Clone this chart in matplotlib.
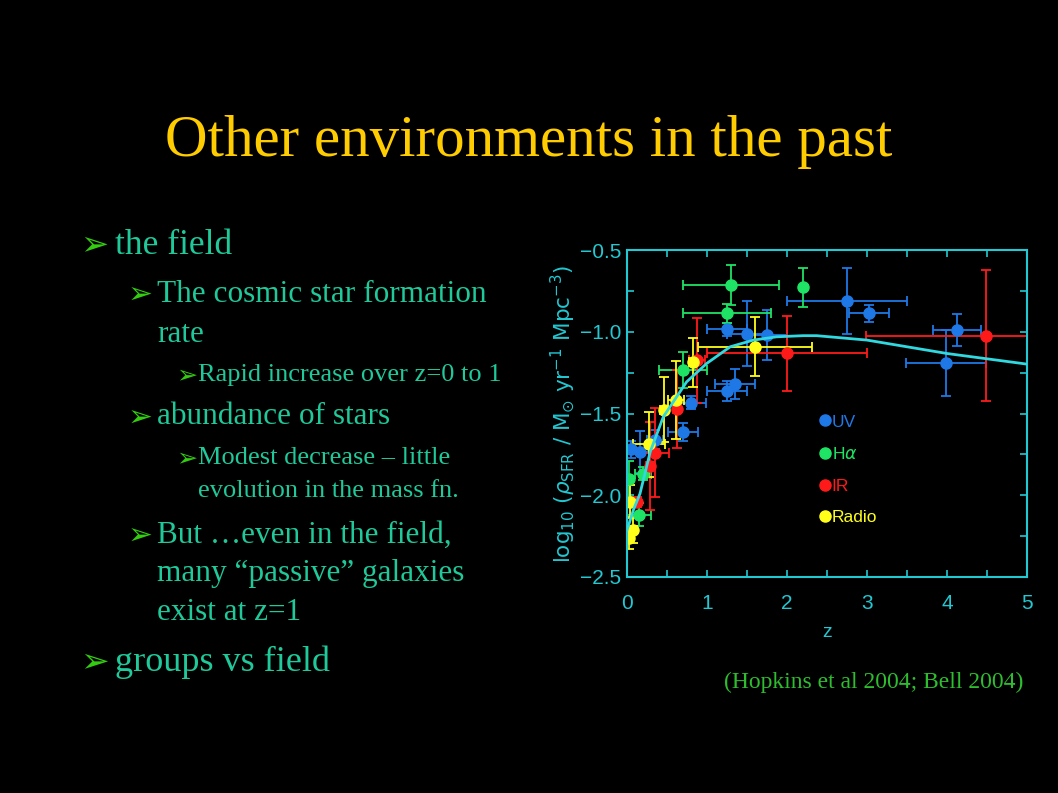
import matplotlib.pyplot as plt
from matplotlib.ticker import MultipleLocator
from matplotlib.lines import Line2D

# cosmic star formation history points
uv_z = [0.05, 0.16, 0.35, 0.70, 0.80, 1.25, 1.35, 1.25, 1.50, 1.75, 2.75, 3.03, 4.12, 3.99]
uv_v = [-1.72, -1.735, -1.66, -1.616, -1.433, -1.361, -1.32, -0.986, -1.012, -1.02, -0.812, -0.888, -0.99, -1.19]
uv_xerr = [0.05, 0.16, 0.1, 0.19, 0.19, 0.25, 0.25, 0.25, 0.25, 0.25, 0.75, 0.25, 0.3, 0.5]
uv_yerr = [0.05, 0.13, 0.06, 0.055, 0.04, 0.06, 0.09, 0.04, 0.2, 0.15, 0.2, 0.05, 0.1, 0.2]

ha_z = [1.30, 1.25, 2.20, 0.70, 0.20, 0.15, 0.02]
ha_v = [-0.714, -0.888, -0.729, -1.235, -1.867, -2.118, -1.898]
ha_xerr = [0.6, 0.55, 0.0, 0.3, 0.1, 0.15, 0.02]
ha_yerr = [0.12, 0.06, 0.12, 0.11, 0.04, 0.07, 0.11]

ir_z = [4.49, 2.0, 0.88, 0.63, 0.35, 0.29, 0.13]
ir_v = [-1.024, -1.133, -1.173, -1.473, -1.739, -1.82, -2.04]
ir_xerr = [1.5, 1.0, 0.1, 0.05, 0.17, 0.05, 0.03]
ir_yerr = [0.4, 0.23, 0.26, 0.24, 0.27, 0.27, 0.03]

radio_z = [1.60, 0.82, 0.61, 0.46, 0.27, 0.04, 0.08, 0.025]
radio_v = [-1.092, -1.186, -1.418, -1.476, -1.688, -2.04, -2.214, -2.26]
radio_xerr = [0.71, 0.05, 0.1, 0.05, 0.2, 0.04, 0.04, 0.02]
radio_yerr = [0.18, 0.15, 0.24, 0.2, 0.2, 0.1, 0.08, 0.07]

# fitted curve, read point by point
fit_z = [0.0, 0.08, 0.1625, 0.29, 0.454, 0.746, 0.996, 1.29, 1.58, 1.87, 2.2, 2.37, 3.0, 4.0, 5.0]
fit_v = [-2.214, -2.09, -1.99, -1.735, -1.52, -1.306, -1.194, -1.092, -1.051, -1.031, -1.024, -1.024, -1.051, -1.133, -1.198]

series = [
    ("UV", uv_z, uv_v, uv_xerr, uv_yerr, "#1e78e6"),
    (r"H$\alpha$", ha_z, ha_v, ha_xerr, ha_yerr, "#1ee364"),
    ("IR", ir_z, ir_v, ir_xerr, ir_yerr, "#ff1a1a"),
    ("Radio", radio_z, radio_v, radio_xerr, radio_yerr, "#ffff1a"),
]

cyan = "#22c8d2"
teal = "#1fc99a"
arrow_green = "#33cc11"

plt.rcParams["mathtext.fontset"] = "dejavusans"

fig = plt.figure(figsize=(10.58, 7.93), dpi=100, facecolor="black")

# slide text
fig.text(0.5, 1 - 142 / 793, "Other environments in the past", color="#ffcc00",
         family="Liberation Serif", fontsize=42.5, ha="center", va="center")

bullets = [
    # (arrow x px, text x px, y px, size, text)
    (80, 115, 245, 25.5, "the field"),
    (128, 157, 294, 22.5, "The cosmic star formation"),
    (None, 157, 334, 22.5, "rate"),
    (176, 198, 375, 19, "Rapid increase over z=0 to 1"),
    (128, 157, 417, 22.5, "abundance of stars"),
    (176, 198, 458, 19, "Modest decrease \u2013 little"),
    (None, 198, 491, 19, "evolution in the mass fn."),
    (128, 157, 535, 22.5, "But \u2026even in the field,"),
    (None, 157, 573, 22.5, "many \u201cpassive\u201d galaxies"),
    (None, 157, 612, 22.5, "exist at z=1"),
    (80, 115, 662, 26, "groups vs field"),
]
for ax_px, tx_px, y_px, size, txt in bullets:
    if ax_px is not None:
        fig.text(ax_px / 1058, 1 - y_px / 793, "\u27a2", color=arrow_green,
                 family="DejaVu Sans", fontsize=size * 0.95, ha="left", va="center")
    fig.text(tx_px / 1058, 1 - y_px / 793, txt, color=teal,
             family="Liberation Serif", fontsize=size, ha="left", va="center")

fig.text(1023 / 1058, 1 - 682 / 793, "(Hopkins et al 2004; Bell 2004)", color="#2ebd2e",
         family="Liberation Serif", fontsize=17, ha="right", va="center")

# the chart
ax = fig.add_axes([627 / 1058, 1 - 577 / 793, 400 / 1058, 327 / 793])
ax.set_facecolor("black")

for name, z, v, xe, ye, col in series:
    ax.errorbar(z, v, xerr=xe, yerr=ye, fmt="o", color=col, ms=8, elinewidth=1.3,
                capsize=3.5, capthick=1.3, mec=col)

ax.plot(fit_z, fit_v, color="#30d8e0", lw=2, zorder=10)

ax.set_xlim(0, 5)
ax.set_ylim(-2.5, -0.5)
ax.xaxis.set_major_locator(MultipleLocator(1))
ax.xaxis.set_minor_locator(MultipleLocator(0.5))
ax.yaxis.set_major_locator(MultipleLocator(0.5))
ax.yaxis.set_minor_locator(MultipleLocator(0.25))
ax.tick_params(which="both", direction="in", top=True, right=True, length=5,
               width=1.2, color=cyan, labelcolor=cyan, labelsize=15)
ax.tick_params(axis="x", pad=12)
ax.tick_params(axis="y", pad=4)
for lab in ax.get_xticklabels() + ax.get_yticklabels():
    lab.set_family("Liberation Sans")
for sp in ax.spines.values():
    sp.set_color(cyan)
    sp.set_linewidth(1.5)

ax.set_xlabel("z", color=cyan, fontsize=14, family="Liberation Sans", labelpad=8)
ax.set_ylabel(r"$\mathrm{log}_{10}\ (\rho_{\mathrm{SFR}}\ /\ \mathrm{M}_{\odot}\ \mathrm{yr}^{-1}\ \mathrm{Mpc}^{-3})$",
              color=cyan, fontsize=15.5, labelpad=2)

handles = [Line2D([], [], ls="none", marker="o", ms=8, color=col, label=name)
           for name, z, v, xe, ye, col in series]
leg = ax.legend(handles=handles, loc="upper left", bbox_to_anchor=(0.442, 0.545),
                frameon=False, handlelength=0.6, handletextpad=0.1, labelspacing=0.95,
                prop={"family": "Liberation Sans", "size": 12.5})
for txt, (name, z, v, xe, ye, col) in zip(leg.get_texts(), series):
    txt.set_color(col)

fig.savefig("out.png", facecolor="black")
